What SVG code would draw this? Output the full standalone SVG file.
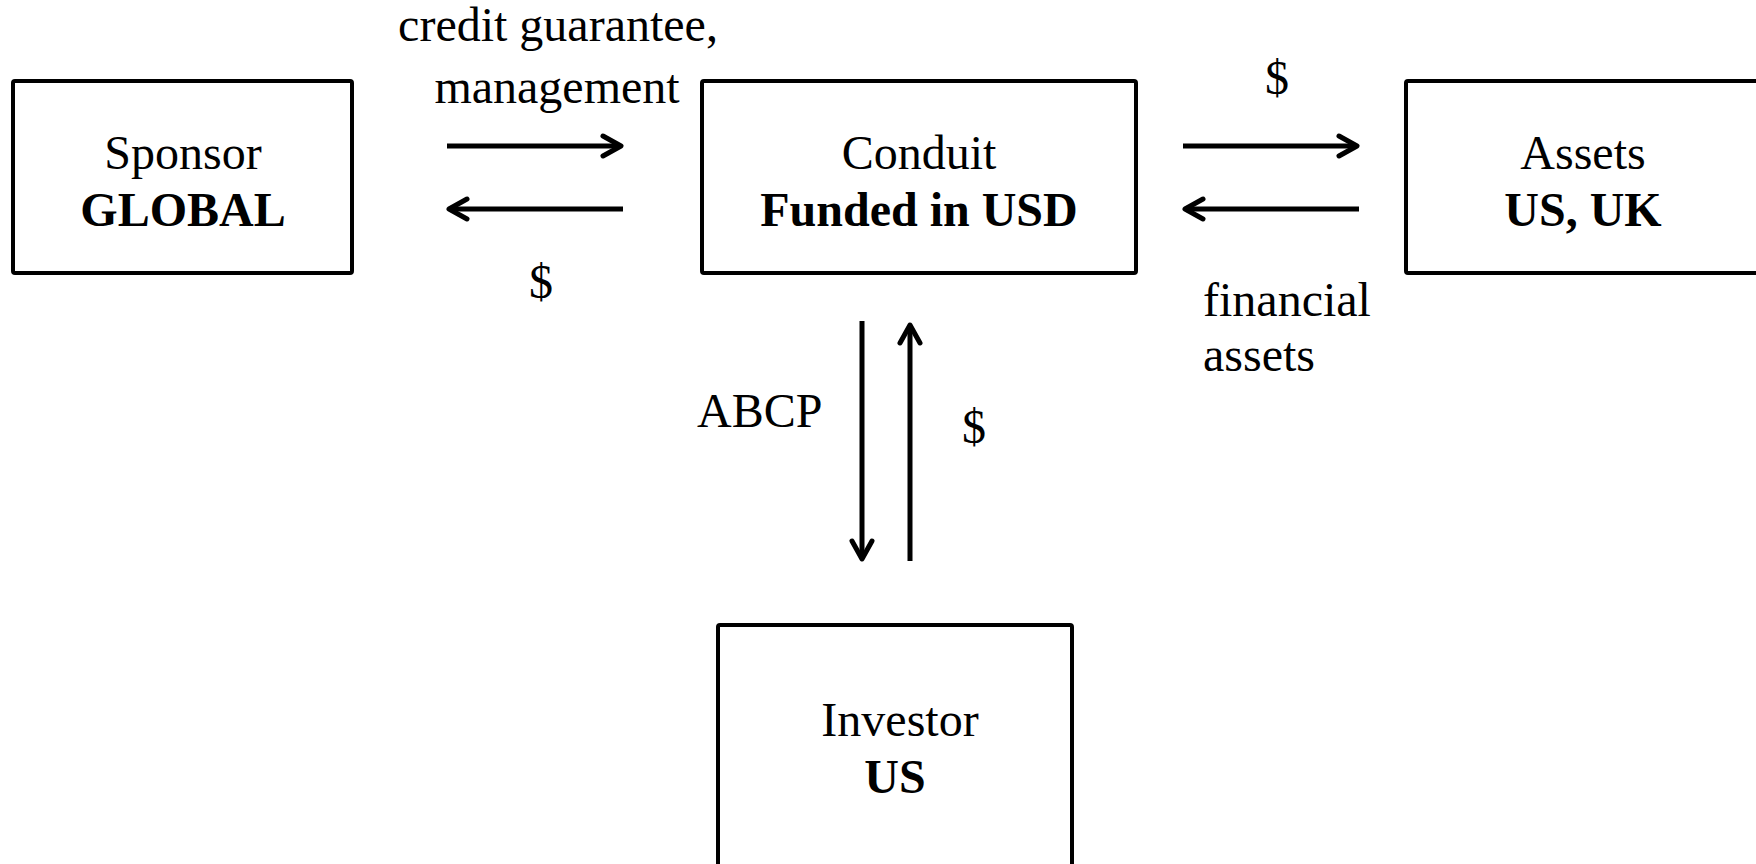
<svg xmlns="http://www.w3.org/2000/svg" width="1756" height="864" viewBox="0 0 1756 864">
<style>
.box{fill:#fff;stroke:#000;stroke-width:4;stroke-linejoin:round}
.t{font-family:"Liberation Serif","Times New Roman",serif;font-size:48px;fill:#000}
.b{font-weight:bold}
.c{text-anchor:middle}
.ar{stroke:#000;stroke-width:5;fill:none;marker-end:url(#ah)}
</style>
<defs>
<marker id="ah" markerWidth="20" markerHeight="22" refX="18" refY="11" orient="auto" markerUnits="userSpaceOnUse" viewBox="0 0 20 22" overflow="visible">
<path d="M0,1 L18,11 L0,21" fill="none" stroke="#000" stroke-width="5" stroke-linecap="round" stroke-linejoin="round"/>
</marker>
</defs>
<rect width="1756" height="864" fill="#fff"/>
<g id="sponsor">
<rect class="box" x="13" y="81" width="339" height="192" rx="2"/>
<text class="t c" x="183" y="169">Sponsor</text>
<text class="t c b" x="183" y="226">GLOBAL</text>
</g>
<g id="conduit">
<rect class="box" x="702" y="81" width="434" height="192" rx="2"/>
<text class="t c" x="919" y="169">Conduit</text>
<text class="t c b" x="919" y="226">Funded in USD</text>
</g>
<g id="assets">
<rect class="box" x="1406" y="81" width="400" height="192" rx="2"/>
<text class="t c" x="1583" y="169">Assets</text>
<text class="t c b" x="1583" y="226">US, UK</text>
</g>
<g id="investor">
<rect class="box" x="718" y="625" width="354" height="300" rx="2"/>
<text class="t c" x="900" y="736">Investor</text>
<text class="t c b" x="895" y="793">US</text>
</g>
<g id="connectors">
<line class="ar" x1="447" y1="146" x2="621" y2="146"/>
<line class="ar" x1="623" y1="209" x2="449" y2="209"/>
<line class="ar" x1="1183" y1="146" x2="1357" y2="146"/>
<line class="ar" x1="1359" y1="209" x2="1185" y2="209"/>
<line class="ar" x1="862" y1="321" x2="862" y2="559"/>
<line class="ar" x1="910" y1="561" x2="910" y2="325"/>
</g>
<g id="labels">
<text class="t c" x="558" y="41">credit guarantee,</text>
<text class="t c" x="557" y="103">management</text>
<text class="t c" x="541" y="298">$</text>
<text class="t c" x="1277" y="94">$</text>
<text class="t" x="1203" y="316">financial</text>
<text class="t" x="1203" y="371">assets</text>
<text class="t" x="697" y="427">ABCP</text>
<text class="t c" x="974" y="443">$</text>
</g>
</svg>
